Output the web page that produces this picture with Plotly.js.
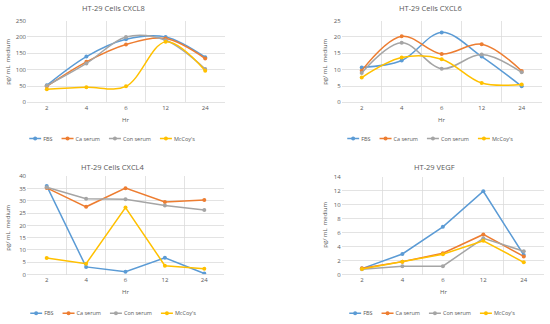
<!DOCTYPE html>
<html><head><meta charset="utf-8">
<script src="https://cdn.plot.ly/plotly-3.0.1.min.js"></script>
<style>html,body{margin:0;padding:0;background:#fff}#c{width:550px;height:324px}</style>
</head><body><div id="c"></div>
<script>
const hours = ['2','4','6','12','24'];
const seriesNames = ['FBS','Ca serum','Con serum',"McCoy's"];
const colors = ['#5B9BD5','#ED7D31','#A5A5A5','#FFC000'];

const cxcl8_FBS = [52,140,193,200,138];
const cxcl8_Ca  = [49,124,177,195,134];
const cxcl8_Con = [51,119,200,190,102];
const cxcl8_Mc  = [40,46,49,185,97];

const cxcl6_FBS = [10.7,12.8,21.4,14.0,4.9];
const cxcl6_Ca  = [9.7,20.2,14.8,17.8,9.6];
const cxcl6_Con = [9.0,18.2,10.3,14.6,9.2];
const cxcl6_Mc  = [7.6,13.7,13.2,5.9,5.5];

const cxcl4_FBS = [36.1,3.1,1.1,6.8,0.4];
const cxcl4_Ca  = [35.3,27.6,35.2,29.6,30.4];
const cxcl4_Con = [35.6,30.9,30.7,28.1,26.3];
const cxcl4_Mc  = [6.7,4.4,27.3,3.6,2.4];

const vegf_FBS = [0.85,2.95,6.85,11.95,2.8];
const vegf_Ca  = [0.9,1.85,3.05,5.75,2.6];
const vegf_Con = [0.75,1.2,1.2,5.2,3.35];
const vegf_Mc  = [0.8,1.85,2.9,4.85,1.75];

const titles = ['HT-29 Cells CXCL8','HT-29 Cells CXCL6','HT-29 Cells CXCL4','HT-29 VEGF'];
const panels = [
  {data:[cxcl8_FBS,cxcl8_Ca,cxcl8_Con,cxcl8_Mc], shape:'spline', range:[0,250], dtick:50},
  {data:[cxcl6_FBS,cxcl6_Ca,cxcl6_Con,cxcl6_Mc], shape:'spline', range:[0,25], dtick:5},
  {data:[cxcl4_FBS,cxcl4_Ca,cxcl4_Con,cxcl4_Mc], shape:'linear', range:[0,40], dtick:5},
  {data:[vegf_FBS,vegf_Ca,vegf_Con,vegf_Mc], shape:'linear', range:[0,14], dtick:2}
];

const W=550,H=324;
const boxes = [
  {x0:27, x1:225, y0:21, y1:104.3, tx:113, ty:8, yx:8, yy:63, hx:125, hy:122, lx:114, ly:139, dy:2},
  {x0:341.7, x1:541.7, y0:21, y1:104.3, tx:430.7, ty:8, yx:325, yy:63, hx:441.7, hy:122, lx:432, ly:139, dy:2},
  {x0:27, x1:224, y0:179.7, y1:279.7, tx:113, ty:170, yx:8, yy:232, hx:125, hy:297, lx:115, ly:315, dy:4},
  {x0:341.7, x1:544, y0:180.3, y1:279.7, tx:434, ty:170, yx:325, yy:229, hx:443, hy:297, lx:434, ly:315, dy:4}
];

const FONT = 'Open Sans, Liberation Sans, sans-serif';
const LEGSIZE = 5.5;
const TXT = '#595959';
const GRID = '#D9D9D9';
const xIdx = hours.map((h,i)=>i);

const traces = [];
const layout = {
  width:W, height:H, margin:{l:0,r:0,t:0,b:0},
  paper_bgcolor:'#fff', plot_bgcolor:'#fff',
  font:{family:FONT, color:TXT, size:6},
  annotations:[], showlegend:true
};
const legendIds = [];

panels.forEach((p,k)=>{
  const n = k===0?'':String(k+1);
  const b = boxes[k];
  legendIds.push('legend'+n);
  p.data.forEach((vals,s)=>{
    traces.push({
      x:xIdx, y:vals, name:seriesNames[s], type:'scatter', mode:'lines+markers',
      xaxis:'x'+n, yaxis:'y'+n, legend: 'legend'+n,
      line:{color:colors[s], width:1.5, shape:p.shape, smoothing:1},
      marker:{color:colors[s], size:4, symbol:'circle'}
    });
  });
  layout['xaxis'+n] = {
    domain:[b.x0/W, b.x1/W], anchor:'y'+n, range:[-0.5,4.5],
    tickvals:xIdx, ticktext:hours, showgrid:false, zeroline:false,
    showline:true, linecolor:GRID, linewidth:0.75, ticks:'',
    tickfont:{size:6, color:TXT, family:FONT},
    minor:{tick0:-0.5, dtick:1, showgrid:true, gridcolor:GRID, gridwidth:0.75, ticks:''},
    fixedrange:true
  };
  layout['yaxis'+n] = {
    domain:[1-b.y1/H, 1-b.y0/H], anchor:'x'+n, range:p.range, dtick:p.dtick,
    showgrid:true, gridcolor:GRID, gridwidth:0.75, zeroline:false, showline:false,
    ticks:'', tickfont:{size:6, color:TXT, family:FONT}, fixedrange:true
  };
  layout['legend'+n] = {
    orientation:'h', x:0, y:1-b.ly/H, xanchor:'left', yanchor:'middle',
    font:{size:LEGSIZE, color:TXT, family:FONT}, bgcolor:'rgba(0,0,0,0)',
    itemwidth:30, tracegroupgap:0
  };
  layout.annotations.push(
    {text:titles[k], x:b.tx/W, y:1-b.ty/H, xref:'paper', yref:'paper', showarrow:false,
     xanchor:'center', yanchor:'middle', font:{size:7.5, color:TXT, family:FONT}},
    {text:'pg/ mL  medium', x:b.yx/W, y:1-b.yy/H, xref:'paper', yref:'paper', showarrow:false,
     textangle:-90, xanchor:'center', yanchor:'middle', font:{size:6, color:TXT, family:FONT}},
    {text:'Hr', x:b.hx/W, y:1-b.hy/H, xref:'paper', yref:'paper', showarrow:false,
     xanchor:'center', yanchor:'middle', font:{size:6, color:TXT, family:FONT}}
  );
});

const measCtx = document.createElement('canvas').getContext('2d');
measCtx.font = LEGSIZE + 'px "Open Sans"';
function textW(s){ return measCtx.measureText(s).width; }

const baseY = {};
function compactLegends(){
  const root = document.getElementById('c');
  legendIds.forEach((id,k)=>{
    const g = root.querySelector('g.infolayer > g.'+id) || root.querySelector('g.'+id);
    if(!g) return;
    const items = Array.from(g.querySelectorAll('g.traces'));
    const LINE=12, TX=14, GAP=9;
    let x=0;
    items.forEach(it=>{
      const tr = it.getAttribute('transform')||'';
      const m = tr.match(/translate\(\s*([-\d.e]+)[ ,]+([-\d.e]+)/);
      const ty = m ? parseFloat(m[2]) : 0;
      it.querySelectorAll('.legendlines path').forEach(p=>p.setAttribute('d','M0,0h'+LINE));
      it.querySelectorAll('.legendsymbols path').forEach(p=>p.setAttribute('transform','translate('+(LINE/2)+',0)'));
      let tw = 0;
      it.querySelectorAll('text').forEach(t=>{
        t.setAttribute('x', TX);
        t.querySelectorAll('tspan').forEach(s=>{ if(s.hasAttribute('x')) s.setAttribute('x', TX); });
        tw = Math.max(tw, textW(t.textContent||''));
      });
      it.setAttribute('transform','translate('+x.toFixed(2)+','+ty+')');
      x += TX + tw + GAP;
    });
    const total = x - GAP;
    if(baseY[id] === undefined){
      const gt = g.getAttribute('transform')||'';
      const m2 = gt.match(/translate\(\s*([-\d.e]+)[ ,]+([-\d.e]+)/);
      baseY[id] = m2 ? parseFloat(m2[2]) : 0;
    }
    g.setAttribute('transform','translate('+(boxes[k].lx - total/2 - 2).toFixed(2)+','+(baseY[id]+boxes[k].dy)+')');
  });
}

const gd = document.getElementById('c');
Plotly.newPlot(gd, traces, layout, {displayModeBar:false, staticPlot:true}).then(()=>{
  compactLegends();
  setTimeout(compactLegends, 50);
  setTimeout(compactLegends, 300);
});
</script></body></html>
